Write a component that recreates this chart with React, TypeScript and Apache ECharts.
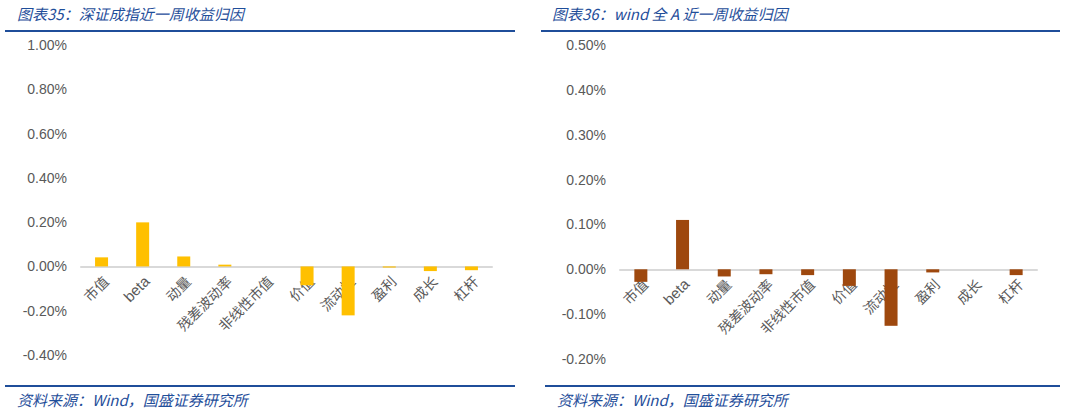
import React, { useEffect, useRef } from "react";
import * as echarts from "echarts";

const categories = ["市值", "beta", "动量", "残差波动率", "非线性市值", "价值", "流动性", "盈利", "成长", "杠杆"];
const szValues = [0.041, 0.199, 0.045, 0.008, 0.0, -0.085, -0.221, -0.005, -0.021, -0.017];
const windValues = [-0.028, 0.11, -0.016, -0.011, -0.013, -0.037, -0.126, -0.007, 0.0, -0.013];
const leftTitle = "图表35：深证成指近一周收益归因";
const rightTitle = "图表36：wind 全 A 近一周收益归因";
const source = "资料来源：Wind，国盛证券研究所";

const BLUE = "#1F4E9A";
const GRAY = "#595959";

export default function App() {
  const ref = useRef<HTMLDivElement>(null);
  useEffect(() => {
    const chart = echarts.init(ref.current!, undefined, { renderer: "svg" });
    const fmt = (v: number) => v.toFixed(2) + "%";
    const yAxisCommon = {
      type: "value" as const,
      axisLine: { show: false },
      axisTick: { show: false },
      splitLine: { show: false },
      axisLabel: {
        formatter: fmt,
        color: GRAY,
        fontSize: 14,
        fontFamily: "Liberation Sans, Arial, sans-serif",
        margin: 14,
      },
    };
    const xAxisCommon = {
      type: "category" as const,
      data: categories,
      axisLine: { onZero: true, lineStyle: { color: "#D9D9D9", width: 2 } },
      axisTick: { show: false },
      axisLabel: { show: false },
    };
    const titleStyle = (text: string, x: number, y: number) => ({
      type: "text",
      x,
      y,
      style: {
        text,
        fill: BLUE,
        font: "italic 15px 'Noto Sans CJK SC', sans-serif",
        textVerticalAlign: "middle",
      },
    });
    const hline = (x1: number, x2: number, y: number) => ({
      type: "line",
      shape: { x1, y1: y, x2, y2: y },
      style: { stroke: BLUE, lineWidth: 2 },
    });
    const baseGraphic = [
      titleStyle(leftTitle, 17, 13),
      titleStyle(rightTitle, 552, 13),
      hline(5, 515, 31),
      hline(541, 1060, 31),
      hline(5, 515, 386),
      hline(545, 1060, 386),
      titleStyle(source, 17, 399),
      titleStyle(source, 557, 399),
    ];
    chart.setOption({
      animation: false,
      backgroundColor: "#ffffff",
      grid: [
        { left: 81, top: 45, width: 411, height: 310, outerBoundsMode: "none", containLabel: false },
        { left: 620, top: 45, width: 417, height: 314, outerBoundsMode: "none", containLabel: false },
      ],
      xAxis: [
        { ...xAxisCommon, gridIndex: 0 },
        { ...xAxisCommon, gridIndex: 1 },
      ],
      yAxis: [
        { ...yAxisCommon, gridIndex: 0, min: -0.4, max: 1.0, interval: 0.2 },
        { ...yAxisCommon, gridIndex: 1, min: -0.2, max: 0.5, interval: 0.1 },
      ],
      series: [
        {
          type: "bar",
          xAxisIndex: 0,
          yAxisIndex: 0,
          data: szValues,
          barWidth: 13,
          itemStyle: { color: "#FFC000" },
        },
        {
          type: "bar",
          xAxisIndex: 1,
          yAxisIndex: 1,
          data: windValues,
          barWidth: 13,
          itemStyle: { color: "#9E480E" },
        },
      ],
      graphic: baseGraphic,
    });
    // rotated category labels anchored via the library's own scales
    const labels: any[] = [];
    [0, 1].forEach((gi) => {
      categories.forEach((c, i) => {
        const p = chart.convertToPixel({ gridIndex: gi } as any, [i, 0]) as number[];
        labels.push({
          type: "text",
          x: p[0] + 4,
          y: p[1] + 12,
          rotation: Math.PI / 4,
          style: {
            text: c,
            fill: GRAY,
            font: c === "beta" ? "15px 'Liberation Sans', Arial, sans-serif" : "14px 'Noto Sans CJK SC', sans-serif",
            textAlign: "right",
            textVerticalAlign: "middle",
          },
        });
      });
    });
    chart.setOption({ graphic: [...baseGraphic, ...labels] });
    return () => chart.dispose();
  }, []);
  return (
    <div
      ref={ref}
      style={{ position: "fixed", left: 0, top: 0, width: 1065, height: 412, background: "#fff" }}
    />
  );
}
